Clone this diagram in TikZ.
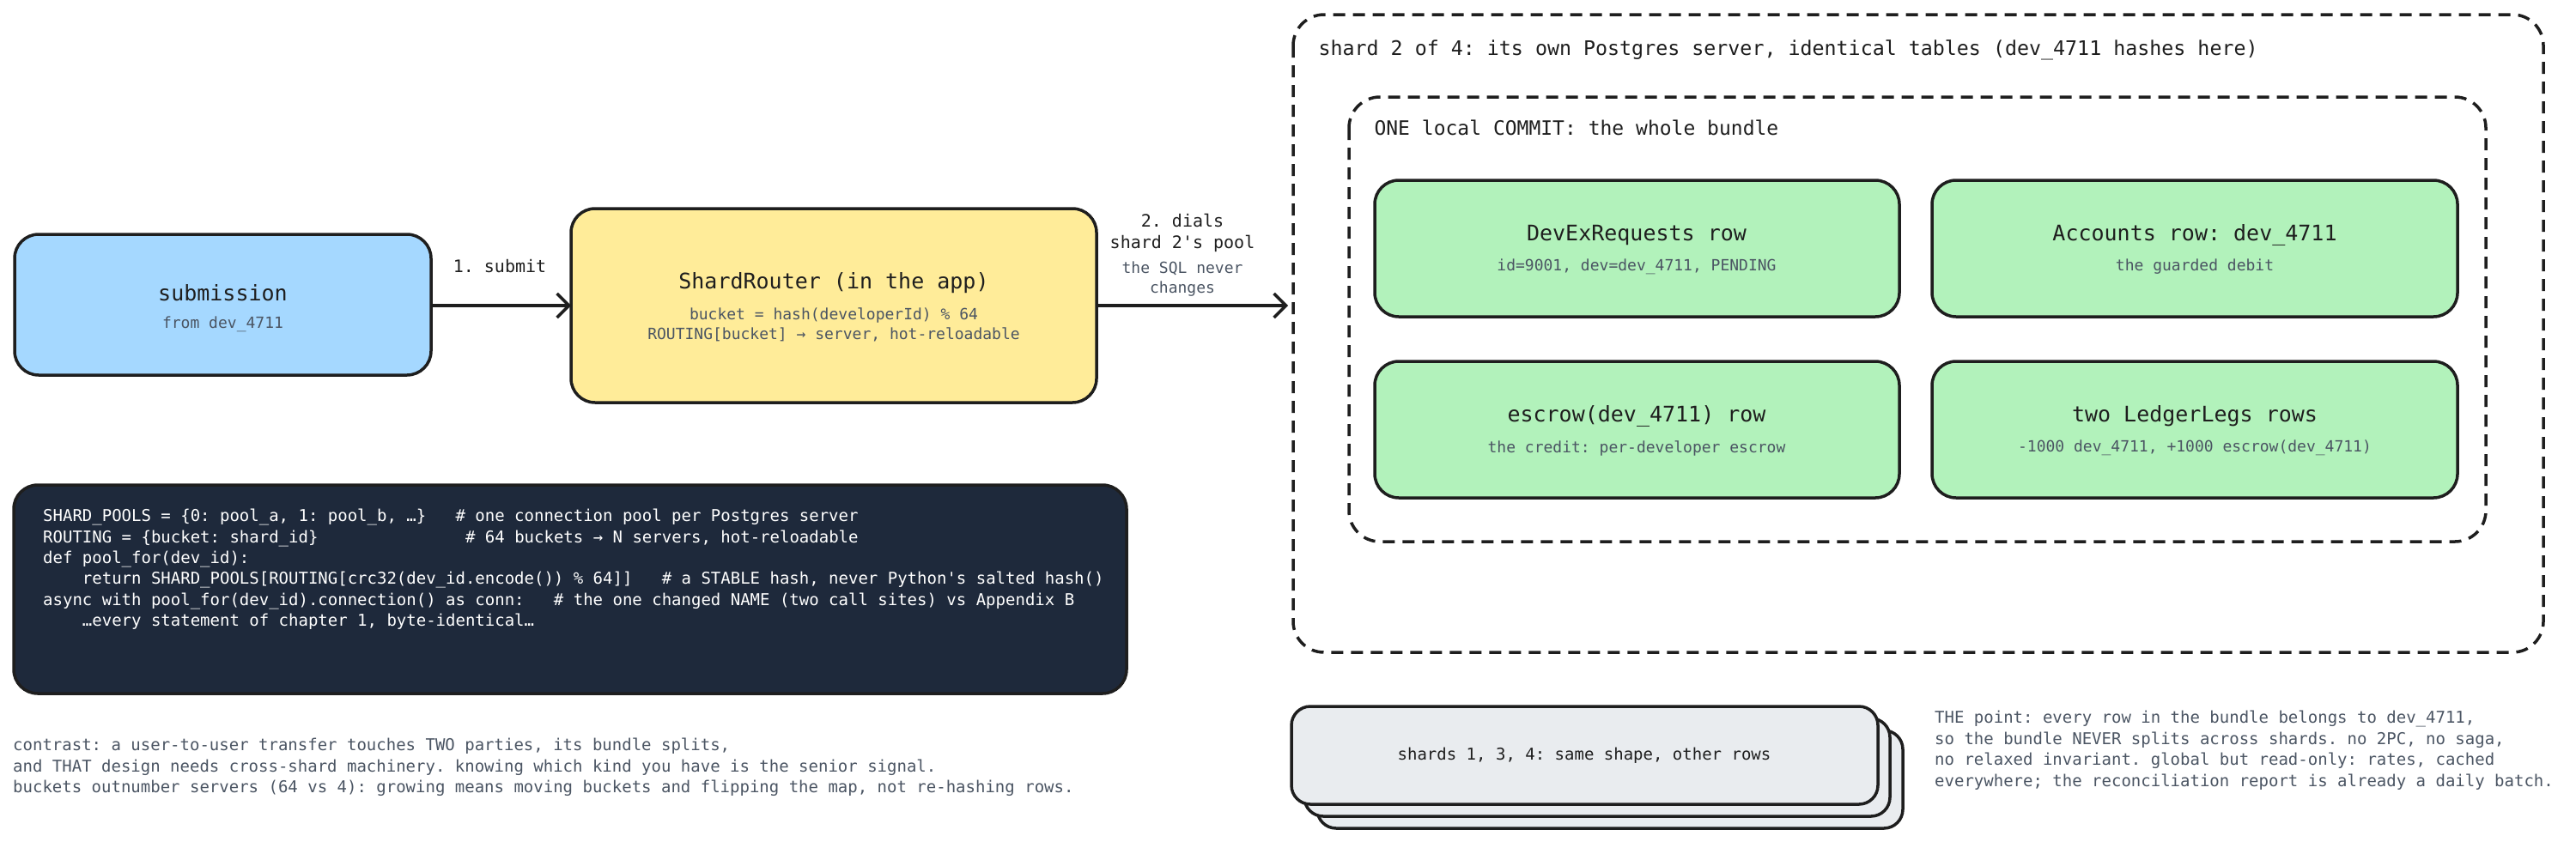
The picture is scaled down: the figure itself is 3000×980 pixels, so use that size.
\documentclass[tikz,border=0pt]{standalone}
\usepackage{fontspec}
\setmonofont{DejaVu Sans Mono}
\usetikzlibrary{arrows.meta}
\definecolor{ink}{HTML}{1E1E1E}
\definecolor{sub}{HTML}{4B5563}
\definecolor{cblue}{HTML}{A5D8FF}
\definecolor{cyel}{HTML}{FFEC99}
\definecolor{cgreen}{HTML}{B2F2BB}
\definecolor{cdark}{HTML}{1E293B}
\definecolor{cgray}{HTML}{E9ECEF}
\tikzset{
 box/.style={draw=ink,line width=3.5pt,rounded corners=28pt},
 dashbox/.style={draw=ink,line width=3.5pt,rounded corners=36pt,dash pattern=on 14pt off 9pt},
 ttl/.style={font=\ttfamily\fontsize{25}{30}\selectfont,text=ink},
 st/.style={font=\ttfamily\fontsize{18}{23}\selectfont,text=sub,align=center},
 lbl/.style={font=\ttfamily\fontsize{20}{25}\selectfont,text=ink},
 note/.style={font=\ttfamily\fontsize{19}{24.5}\selectfont,text=sub,align=left,anchor=north west,inner sep=0},
 arr/.style={draw=ink,line width=3.5pt,-{Straight Barb[length=14pt,width=28pt,line width=3.5pt]}},
}
\begin{document}
\begin{tikzpicture}[x=1pt,y=-1pt]
\useasboundingbox (0,0) rectangle (3000,980);
% left flow
\draw[box,fill=cblue] (17,273) rectangle (502,437);
\node[ttl] (subm) at (259.5,341) {submission};
\node[st] (submf) at (259.5,378) {from dev\_4711};
\coordinate (subE) at (502,356);
\draw[box,fill=cyel] (665,243) rectangle (1277,469);
\node[ttl] (router) at (971,330) {ShardRouter (in the app)};
\node[st] (routers) at (971,378) {bucket = hash(developerId) \% 64\\ROUTING[bucket] → server, hot-reloadable};
\coordinate (rW) at (665,356);
\coordinate (rE) at (1277,356);
\coordinate (shardW) at (1500,356);
\draw[arr] (subE) -- (rW);
\draw[arr] (rE) -- (shardW);
\node[lbl] (l1) at (582,310) {1. submit};
\node[lbl,align=center] (l2) at (1377,271) {2. dials\\shard 2's pool};
\node[st] (l2s) at (1377,325) {the SQL never\\changes};
% shard 2
\draw[dashbox] (1506,17) rectangle (2962,760);
\node[lbl,anchor=west,font=\ttfamily\fontsize{23.3}{28}\selectfont] (s2t) at (1532,58) {shard 2 of 4: its own Postgres server, identical tables (dev\_4711 hashes here)};
\draw[dashbox] (1571,113) rectangle (2895,631);
\node[lbl,anchor=west,font=\ttfamily\fontsize{23}{28}\selectfont] (cmt) at (1597,149) {ONE local COMMIT: the whole bundle};
\draw[box,fill=cgreen] (1601,210) rectangle (2212,369);
\node[ttl] (g1) at (1906,274) {DevExRequests row};
\node[st] (g1s) at (1906,311) {id=9001, dev=dev\_4711, PENDING};
\draw[box,fill=cgreen] (2250,210) rectangle (2862,369);
\node[ttl] (g2) at (2556,274) {Accounts row: dev\_4711};
\node[st] (g2s) at (2556,311) {the guarded debit};
\draw[box,fill=cgreen] (1601,421) rectangle (2212,580);
\node[ttl] (g3) at (1906,485) {escrow(dev\_4711) row};
\node[st] (g3s) at (1906,522) {the credit: per-developer escrow};
\draw[box,fill=cgreen] (2250,421) rectangle (2862,580);
\node[ttl] (g4) at (2556,485) {two LedgerLegs rows};
\node[st] (g4s) at (2556,522) {-1000 dev\_4711, +1000 escrow(dev\_4711)};
% stack
\draw[box,fill=cgray,rounded corners=22pt] (1534,851) rectangle (2216,965);
\draw[box,fill=cgray,rounded corners=22pt] (1519,837) rectangle (2201,951);
\draw[box,fill=cgray,rounded corners=22pt] (1504,823) rectangle (2187,937);
\node[lbl,font=\ttfamily\fontsize{19}{24}\selectfont] (stk) at (1845,880) {shards 1, 3, 4: same shape, other rows};
\node[note] (pt) at (2253,828) {THE point: every row in the bundle belongs to dev\_4711,\\so the bundle NEVER splits across shards. no 2PC, no saga,\\no relaxed invariant. global but read-only: rates, cached\\everywhere; the reconciliation report is already a daily batch.};
% code
\draw[box,fill=cdark] (16,565) rectangle (1312,808);
\node[note,text=white,font=\ttfamily\fontsize{19}{24.4}\selectfont] (code) at (50,593) {SHARD\_POOLS = \{0: pool\_a, 1: pool\_b, …\}~~~\# one connection pool per Postgres server\\ROUTING = \{bucket: shard\_id\}~~~~~~~~~~~~~~~\# 64 buckets → N servers, hot-reloadable\\def pool\_for(dev\_id):\\~~~~return SHARD\_POOLS[ROUTING[crc32(dev\_id.encode()) \% 64]]~~~\# a STABLE hash, never Python's salted hash()\\async with pool\_for(dev\_id).connection() as conn:~~~\# the one changed NAME (two call sites) vs Appendix B\\~~~~…every statement of chapter 1, byte-identical…};
\node[note] (contrast) at (15,860) {contrast: a user-to-user transfer touches TWO parties, its bundle splits,\\and THAT design needs cross-shard machinery. knowing which kind you have is the senior signal.\\buckets outnumber servers (64 vs 4): growing means moving buckets and flipping the map, not re-hashing rows.};
\end{tikzpicture}
\end{document}
